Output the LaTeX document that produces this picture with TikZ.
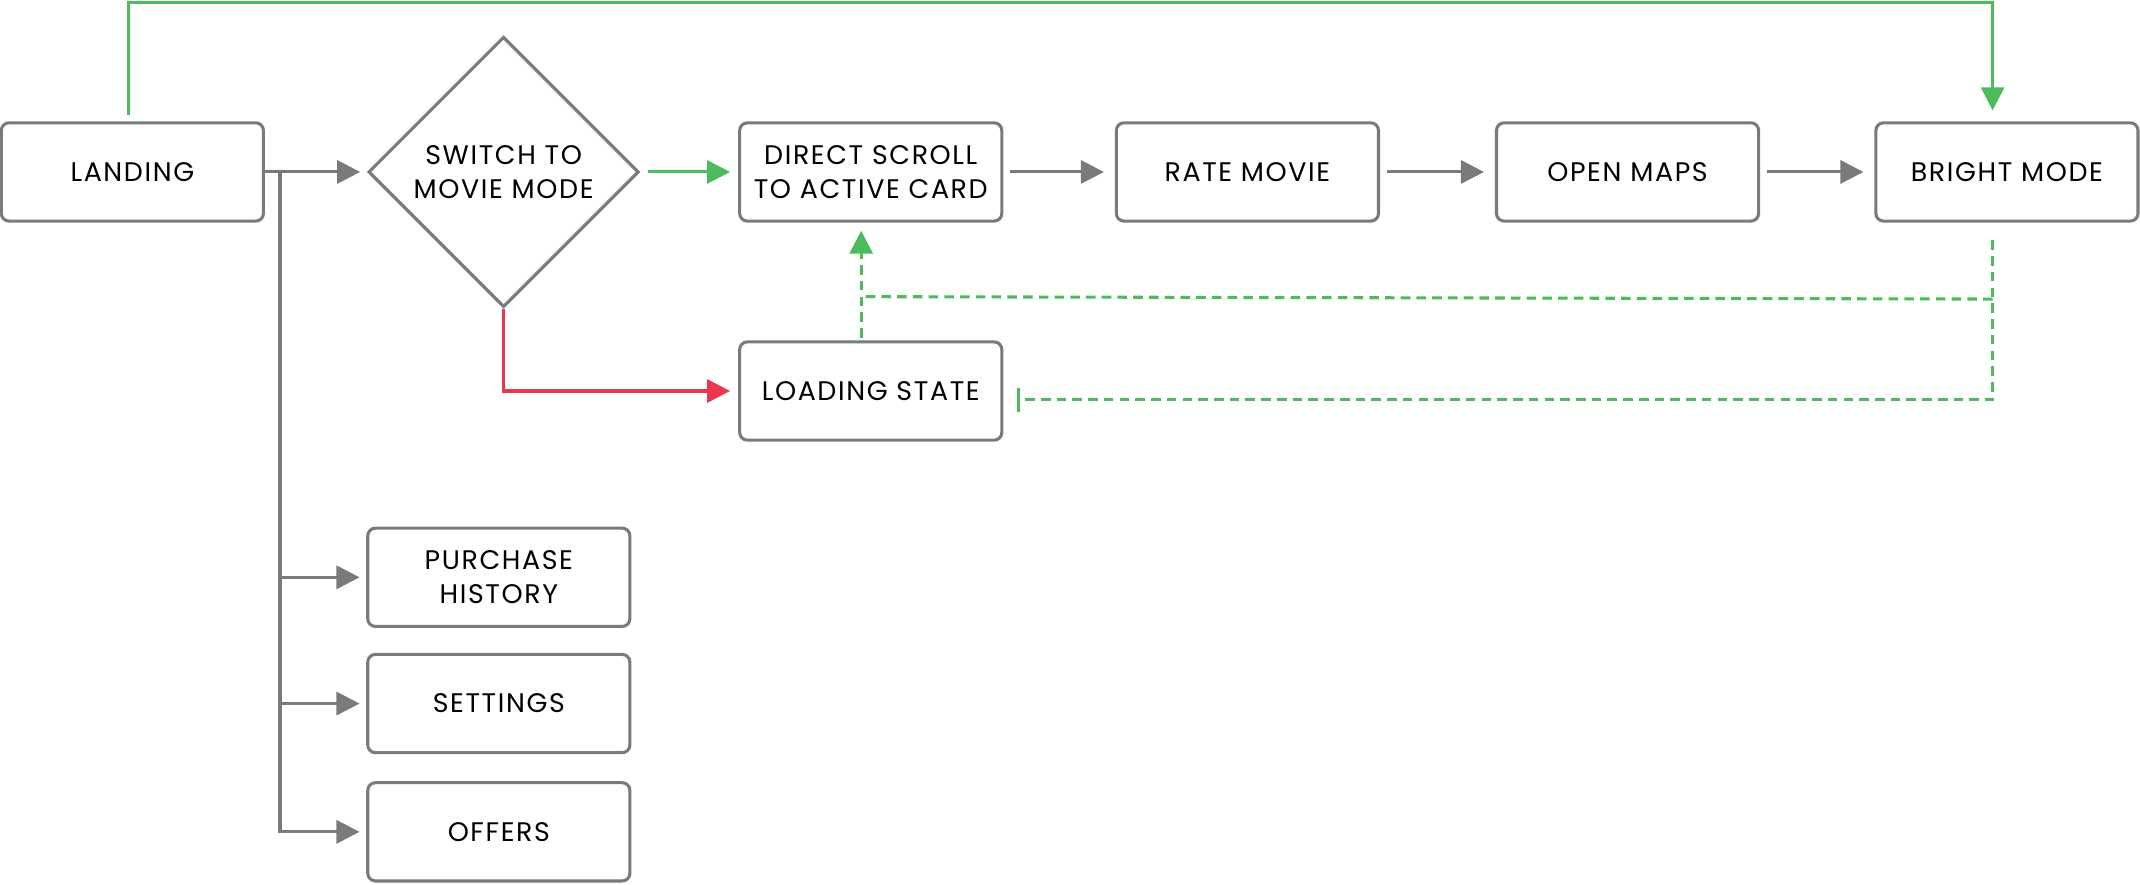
\documentclass[tikz,border=0pt]{standalone}
\usepackage{fontspec}
\setmainfont{Poppins}[LetterSpace=6]
\usepackage{tikz}
\usetikzlibrary{calc,shapes.geometric,arrows.meta,positioning}
\definecolor{gris}{HTML}{7A7A7A}
\definecolor{vert}{HTML}{4CBB5C}
\definecolor{rouge}{HTML}{E8374F}
\tikzstyle{boite}=[draw=gris,line width=1.6pt,rounded corners=4pt,minimum width=4.8cm,minimum height=1.8cm,align=center,inner sep=0pt,font=\fontsize{14}{17.5}\selectfont]
\tikzstyle{losange}=[diamond,draw=gris,line width=1.6pt,minimum width=4.95cm,minimum height=4.95cm,align=center,inner sep=0pt,font=\fontsize{14}{17.5}\selectfont]
\tikzstyle{fleche}=[-{Triangle[length=12pt,width=12pt]},line width=1.6pt]
\tikzstyle{pointille}=[line width=1.6pt,dash pattern=on 5pt off 3.2pt]

\begin{document}
\begin{tikzpicture}[x=0.025cm,y=-0.025cm]
          \useasboundingbox (0,0) rectangle (1568,648);

          % etapes principales
          \node[boite] (land) at (97,126) {LANDING};
          \node[losange] (switch) at (369,126) {SWITCH TO\\MOVIE MODE};
          \node[boite] (scroll) at (638,126) {DIRECT SCROLL\\TO ACTIVE CARD};
          \node[boite] (rate) at (914,126) {RATE MOVIE};
          \node[boite] (maps) at (1192.5,126) {OPEN MAPS};
          \node[boite] (bright) at (1470.5,126) {BRIGHT MODE};
          \node[boite] (load) at (638,286.5) {LOADING STATE};

          % menu
          \node[boite] (hist) at (365.5,423) {PURCHASE\\HISTORY};
          \node[boite] (sett) at (365.5,515.5) {SETTINGS};
          \node[boite] (offer) at (365.5,609.5) {OFFERS};

          \path[gris,fleche,shorten >=3.5pt] (land.east) edge (switch.west);
          \path[gris,fleche,shorten <=3.5pt,shorten >=5.7pt]
          (scroll.east) edge (rate.west)
          (rate.east) edge (maps.west)
          (maps.east) edge (bright.west);

          % branches du menu
          \coordinate (tronc) at ($(land.east)+(11,0)$);
          \foreach \cible in {hist,sett,offer}{
            \draw[gris,fleche,shorten >=3.5pt] (tronc) |- (\cible.west);
          }

          \draw[vert,fleche,shorten <=4.2pt,shorten >=4.2pt] (switch.east) -- (scroll.west);
          \draw[rouge,fleche,shorten >=4.2pt] (switch.south) |- (load.west);

          % retour par le haut
          \coordinate (haut) at (1460,1.5);
          \draw[vert,fleche,shorten <=3.5pt,shorten >=5.7pt]
          ($(land.north)+(-3,0)$) |- (haut) -| ($(bright.north)+(-10.5,0)$);

          % retours en pointille
          \draw[vert,pointille,-{Triangle[length=12pt,width=12pt]},shorten <=1.4pt,shorten >=4.2pt]
          ($(load.north)+(-7,0)$) -- ($(scroll.south)+(-7,0)$);
          \draw[vert,pointille] ($(bright.south)+(-10.5,56)$) -- ($(load.north)+(-7,-32)$);
          \draw[vert,pointille,-{Bar[width=12.8pt]}]
          ($(bright.south)+(-10.5,13)$) |- ($(load.east)+(10,6.5)$);
        \end{tikzpicture}
\end{document}
